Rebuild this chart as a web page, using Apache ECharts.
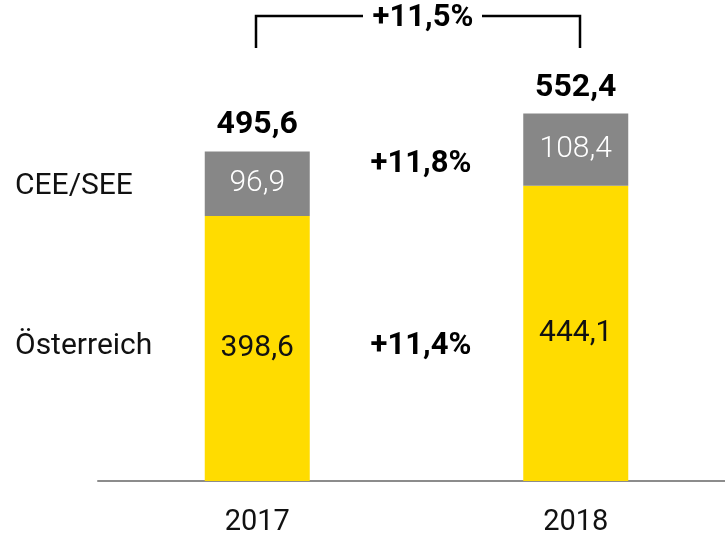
<!DOCTYPE html>
<html>
<head>
<meta charset="utf-8">
<script src="https://cdn.jsdelivr.net/npm/echarts@6/dist/echarts.min.js"></script>
<style>
  html, body { margin: 0; padding: 0; background: #fff; }
  #chart { width: 725px; height: 533px; }
</style>
</head>
<body>
<div id="chart"></div>
<script>
// Werte aus dem Bild
var years = ['2017', '2018']
var oesterreich = [398.6, 444.1]
var ceeSee = [96.9, 108.4]
var gesamt = [495.6, 552.4]
var growthLabels = { total: '+11,5%', cee: '+11,8%', at: '+11,4%' }
var rowLabels = ['CEE/SEE', 'Österreich']

var FONT = 'Roboto'
var fmt = function (v) { return String(v).replace('.', ',') }

var chart = echarts.init(document.getElementById('chart'))

chart.setOption({
  animation: false,
  backgroundColor: '#fff',
  textStyle: { fontFamily: FONT },
  grid: { left: 98, width: 637, top: 82, height: 399, outerBoundsMode: 'none' },
  xAxis: {
    type: 'category',
    data: years,
    axisTick: { show: false },
    axisLine: { lineStyle: { color: '#8c8c8c', width: 2 } },
    axisLabel: { color: '#111', fontSize: 29, fontFamily: FONT, margin: 27 }
  },
  yAxis: {
    type: 'value',
    min: 0,
    max: 600,
    show: false
  },
  series: [
    {
      name: 'Österreich',
      type: 'bar',
      stack: 'a',
      barWidth: 105,
      data: oesterreich,
      itemStyle: { color: '#FFDC00' },
      label: {
        show: true,
        position: 'inside',
        color: '#111',
        fontSize: 30,
        fontWeight: 'normal',
        fontFamily: FONT,
        formatter: function (p) { return fmt(p.value) }
      }
    },
    {
      name: 'CEE/SEE',
      type: 'bar',
      stack: 'a',
      barWidth: 105,
      data: ceeSee,
      itemStyle: { color: '#878787' },
      label: {
        show: true,
        position: 'inside',
        color: '#fff',
        fontSize: 30,
        fontWeight: 300,
        fontFamily: FONT,
        formatter: function (p) { return fmt(p.value) }
      }
    },
    {
      name: 'Gesamt',
      type: 'scatter',
      symbolSize: 0,
      data: gesamt,
      silent: true,
      itemStyle: { opacity: 1 },
      label: {
        show: true,
        position: 'top',
        distance: 10,
        color: '#000',
        fontSize: 32,
        fontWeight: 'bold',
        fontFamily: FONT,
        formatter: function (p) { return fmt(p.value) }
      }
    }
  ],
  graphic: [
    // Klammer oben
    { type: 'polyline', shape: { points: [[256, 48], [256, 16], [363, 16]] }, style: { stroke: '#000', lineWidth: 2.5, fill: null } },
    { type: 'polyline', shape: { points: [[482, 16], [580, 16], [580, 48]] }, style: { stroke: '#000', lineWidth: 2.5, fill: null } },
    { type: 'text', x: 423, y: 18, style: { text: growthLabels.total, font: 'bold 31px Roboto', fill: '#000', align: 'center', verticalAlign: 'middle' } },
    { type: 'text', x: 421, y: 164, style: { text: growthLabels.cee, font: 'bold 31px Roboto', fill: '#000', align: 'center', verticalAlign: 'middle' } },
    { type: 'text', x: 421, y: 346, style: { text: growthLabels.at, font: 'bold 31px Roboto', fill: '#000', align: 'center', verticalAlign: 'middle' } },
    { type: 'text', x: 15, y: 186, style: { text: rowLabels[0], font: '30px Roboto', fill: '#111', align: 'left', verticalAlign: 'middle' } },
    { type: 'text', x: 15, y: 346, style: { text: rowLabels[1], font: '30px Roboto', fill: '#111', align: 'left', verticalAlign: 'middle' } }
  ]
})
</script>
</body>
</html>
